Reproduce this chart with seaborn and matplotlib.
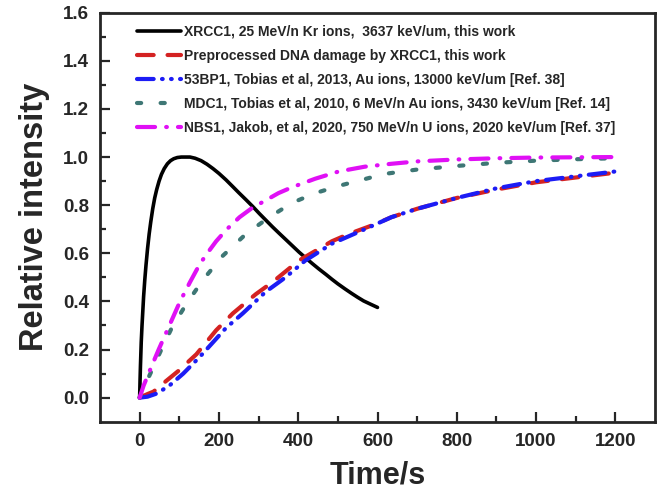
import numpy as np
import pandas as pd
import matplotlib
matplotlib.use("Agg")
import matplotlib.pyplot as plt
import seaborn as sns

sns.set_style("ticks")
plt.rcParams['font.family'] = ['Liberation Sans', 'DejaVu Sans']
plt.rcParams['font.weight'] = 'bold'
plt.rcParams['lines.scale_dashes'] = False

# values
t_xrcc1 = [0, 1, 2, 3, 4, 6, 8, 10, 13, 16, 20, 24, 28, 33, 38, 43, 49, 55, 62, 70, 78, 86, 95, 105, 115, 127,
           140, 155, 170, 185, 200, 218, 235, 250, 268, 285, 302, 320, 335, 352, 370, 386, 402, 418, 435,
           452, 470, 485, 500, 518, 535, 550, 565, 583, 600]
y_xrcc1 = [0.0, 0.07, 0.13, 0.18, 0.23, 0.3, 0.36, 0.42, 0.49, 0.55, 0.62, 0.68, 0.73, 0.785, 0.83, 0.865, 0.9,
           0.928, 0.952, 0.972, 0.985, 0.993, 0.998, 1.0, 1.0, 1.0,
           0.995, 0.985, 0.97, 0.952, 0.932, 0.905, 0.877, 0.852, 0.823, 0.795, 0.765, 0.735, 0.71, 0.683,
           0.655, 0.63, 0.605, 0.582, 0.558, 0.535, 0.512, 0.492, 0.473, 0.452, 0.433, 0.417, 0.402, 0.388, 0.375]

t_red = [0, 20, 35, 60, 97, 143, 193, 235, 293, 335, 402, 485, 527, 593, 635, 700, 800, 900, 1000, 1100, 1200]
y_red = [0.0, 0.015, 0.025, 0.06, 0.11, 0.18, 0.28, 0.35, 0.43, 0.48, 0.57, 0.65, 0.68, 0.72, 0.75, 0.785, 0.83, 0.865, 0.895, 0.915, 0.935]

t_blue = [0, 20, 43, 75, 110, 152, 185, 218, 260, 318, 368, 418, 485, 568, 635, 700, 800, 900, 1000, 1100, 1200]
y_blue = [0.0, 0.004, 0.017, 0.05, 0.1, 0.17, 0.23, 0.29, 0.35, 0.44, 0.5, 0.57, 0.64, 0.7, 0.75, 0.785, 0.83, 0.87, 0.9, 0.92, 0.94]

t_teal = [0, 10, 27, 52, 81, 118, 160, 210, 268, 327, 385, 443, 502, 560, 618, 700, 800, 900, 1000, 1100, 1200]
y_teal = [0.0, 0.04, 0.1, 0.19, 0.29, 0.39, 0.49, 0.59, 0.68, 0.75, 0.81, 0.85, 0.88, 0.905, 0.93, 0.948, 0.963, 0.976, 0.985, 0.991, 0.995]

t_mag = [0, 10, 25, 48, 75, 102, 127, 152, 175, 193, 220, 252, 285, 318, 350, 385, 443, 502, 568, 635, 700, 800, 900, 1000, 1100, 1200]
y_mag = [0.0, 0.05, 0.11, 0.2, 0.3, 0.4, 0.48, 0.556, 0.61, 0.65, 0.7, 0.75, 0.79, 0.82, 0.85, 0.875, 0.91, 0.94, 0.96, 0.972, 0.982, 0.99, 0.995, 0.998, 0.999, 1.0]

labels = ['XRCC1, 25 MeV/n Kr ions,  3637 keV/um, this work',
          'Preprocessed DNA damage by XRCC1, this work',
          '53BP1, Tobias et al, 2013, Au ions, 13000 keV/um [Ref. 38]',
          'MDC1, Tobias et al, 2010, 6 MeV/n Au ions, 3430 keV/um [Ref. 14]',
          'NBS1, Jakob, et al, 2020, 750 MeV/n U ions, 2020 keV/um [Ref. 37]']

fig = plt.figure(figsize=(6.6, 4.99), dpi=100)
ax = fig.add_axes([100/660, 1-421.7/499, 555/660, 409/499])

series = [(t_xrcc1, y_xrcc1, 'black', '-', 2.6),
          (t_red, y_red, '#d42222', (0, (12, 10)), 3.0),
          (t_blue, y_blue, '#1c1cf5', (0, (12, 6, 0.5, 6, 0.5, 6)), 3.0),
          (t_teal, y_teal, '#3e7775', (0, (3, 14)), 3.0),
          (t_mag, y_mag, '#e010f5', (0, (13, 8, 0.5, 8)), 3.0)]

for (t, y, c, ls, lw), lab in zip(series, labels):
    df = pd.DataFrame({'t': t, 'y': y})
    sns.lineplot(data=df, x='t', y='y', ax=ax, color=c, linestyle=ls, lw=lw,
                 label=lab, dash_capstyle='round', solid_capstyle='round')

ax.set_xlim(-100, 1300)
ax.set_ylim(-0.1, 1.6)
ax.set_xticks(np.arange(0, 1201, 200))
ax.set_xticks(np.arange(100, 1201, 200), minor=True)
ax.set_yticks(np.arange(0, 1.61, 0.2))
ax.set_yticks(np.arange(0.1, 1.6, 0.2), minor=True)
ax.yaxis.set_major_formatter(matplotlib.ticker.FormatStrFormatter('%.1f'))
ax.tick_params(which='major', direction='in', length=7, width=1.6, labelsize=13.5, pad=8)
ax.tick_params(which='minor', direction='in', length=4, width=1.6)
for sp in ax.spines.values():
    sp.set_linewidth(2)
ax.set_xlabel('Time/s', fontsize=22, fontweight='bold', labelpad=8)
ax.set_ylabel('Relative intensity', fontsize=23.5, fontweight='bold', labelpad=9)

leg = ax.legend(loc='upper left', bbox_to_anchor=(0.045, 1.0), frameon=False,
                prop={'size': 10, 'weight': 'bold'}, handlelength=3.2,
                handletextpad=0.2, labelspacing=0.72, borderaxespad=0.45)

fig.savefig('out.png', dpi=100)
